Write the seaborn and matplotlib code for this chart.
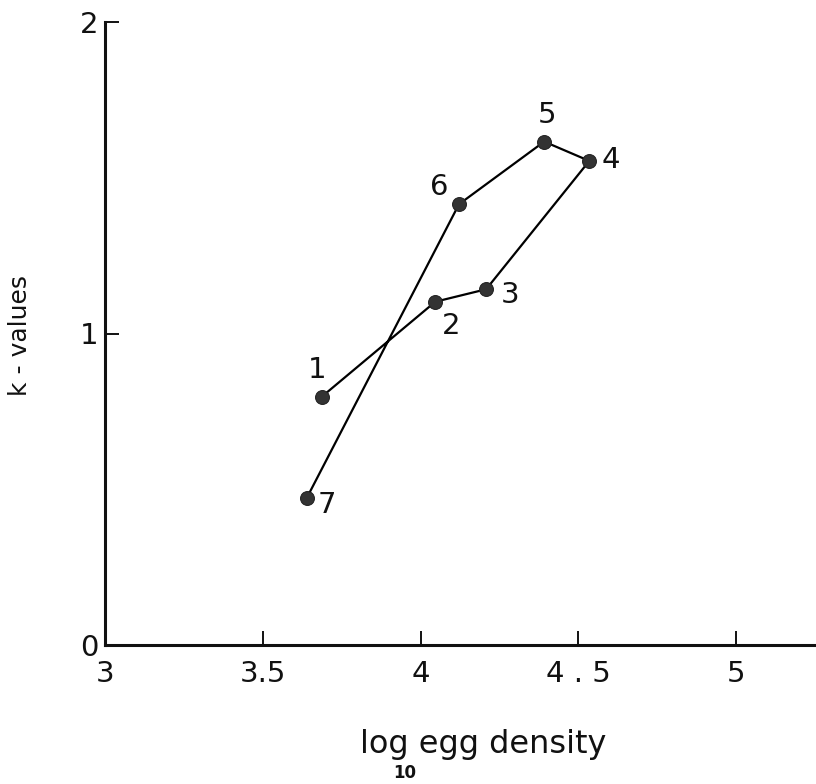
import matplotlib
matplotlib.use("Agg")
import matplotlib.pyplot as plt
import seaborn as sns
import pandas as pd

labels = ["1", "2", "3", "4", "5", "6", "7"]
log_density = [3.687, 4.047, 4.208, 4.535, 4.392, 4.122, 3.639]
k_values = [0.797, 1.102, 1.142, 1.554, 1.616, 1.415, 0.471]
x_ticks = [3, 3.5, 4, 4.5, 5]
x_ticklabels = ["3", "3.5", "4", "4 . 5", "5"]
y_ticks = [0, 1, 2]
y_ticklabels = ["0", "1", "2"]

sns.set_theme(style="ticks")
plt.rcParams["font.family"] = ["DejaVu Sans"]

df = pd.DataFrame({"x": log_density, "y": k_values, "label": labels})

fig = plt.figure(figsize=(8.16, 7.84), dpi=100)
ax = fig.add_axes([105 / 816, 139 / 784, 711 / 816, 623 / 784])

sns.lineplot(data=df, x="x", y="y", sort=False, ax=ax, color="black",
             linewidth=1.6, marker="o", markersize=10,
             markerfacecolor="#333333", markeredgecolor="#222222")

offsets = {"1": (-5, 27), "2": (16, -24), "3": (24, -6), "4": (22, 1),
           "5": (3, 27), "6": (-20, 17), "7": (20, -7)}
for xi, yi, lab in zip(log_density, k_values, labels):
    dx, dy = offsets[lab]
    ax.annotate(lab, (xi, yi), xytext=(dx, dy), textcoords="offset pixels",
                ha="center", va="center", fontsize=21, color="#111111")

ax.set_xlim(3, 3 + 711 / 315.5)
ax.set_ylim(0, 2)
ax.set_xticks(x_ticks)
ax.set_xticklabels(x_ticklabels)
ax.set_yticks(y_ticks)
ax.set_yticklabels(y_ticklabels)
ax.tick_params(direction="in", length=10, width=1.4, labelsize=21,
               colors="#111111")
ax.tick_params(axis="x", pad=11)
ax.tick_params(axis="y", pad=5)
for s in ["top", "right"]:
    ax.spines[s].set_visible(False)
for s in ["left", "bottom"]:
    ax.spines[s].set_linewidth(2.2)
    ax.spines[s].set_color("#111111")
ax.set_xlabel("")
ax.set_ylabel("")

fig.text(20 / 816, 1 - 336 / 784, "k - values", rotation=90, ha="center",
         va="center", fontsize=18, color="#111111")
fig.text(483 / 816, 1 - 745 / 784, "log egg density", ha="center",
         va="center", fontsize=23, color="#111111")
fig.text(405 / 816, 1 - 773 / 784, "10", ha="center", va="center",
         fontsize=12, fontweight="bold", color="#111111")

fig.savefig("out.png", dpi=100, facecolor="white")
